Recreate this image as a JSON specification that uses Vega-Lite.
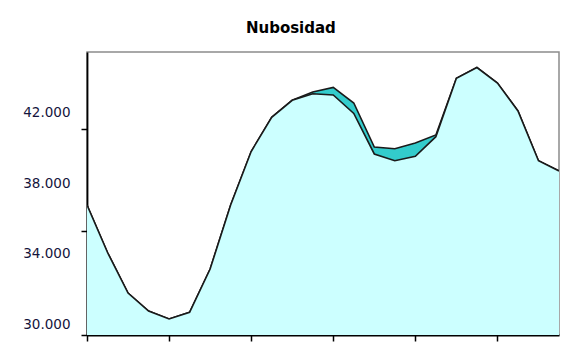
{
  "$schema": "https://vega.github.io/schema/vega-lite/v6.json",
  "width": 472,
  "height": 283,
  "autosize": "none",
  "padding": {"left": 87, "top": 52, "right": 5, "bottom": 29},
  "background": "white",
  "title": {
    "text": "Nubosidad",
    "font": "DejaVu Sans",
    "fontSize": 15,
    "fontWeight": "bold",
    "color": "#000000",
    "anchor": "middle",
    "frame": "bounds",
    "baseline": "alphabetic",
    "offset": 4
  },
  "data": {
    "values": [
      {"hora": 0, "base": 37350, "alto": 37350},
      {"hora": 1, "base": 34665, "alto": 34665},
      {"hora": 2, "base": 32375, "alto": 32375},
      {"hora": 3, "base": 31357, "alto": 31357},
      {"hora": 4, "base": 30905, "alto": 30905},
      {"hora": 5, "base": 31283, "alto": 31283},
      {"hora": 6, "base": 33732, "alto": 33732},
      {"hora": 7, "base": 37350, "alto": 37350},
      {"hora": 8, "base": 40375, "alto": 40375},
      {"hora": 9, "base": 42309, "alto": 42309},
      {"hora": 10, "base": 43270, "alto": 43270},
      {"hora": 11, "base": 43643, "alto": 43739},
      {"hora": 12, "base": 43570, "alto": 43994},
      {"hora": 13, "base": 42524, "alto": 43117},
      {"hora": 14, "base": 40234, "alto": 40630},
      {"hora": 15, "base": 39855, "alto": 40533},
      {"hora": 16, "base": 40104, "alto": 40856},
      {"hora": 17, "base": 41212, "alto": 41308},
      {"hora": 18, "base": 44514, "alto": 44514},
      {"hora": 19, "base": 45124, "alto": 45124},
      {"hora": 20, "base": 44248, "alto": 44248},
      {"hora": 21, "base": 42665, "alto": 42665},
      {"hora": 22, "base": 39855, "alto": 39855},
      {"hora": 23, "base": 39273, "alto": 39273}
    ]
  },
  "layer": [
    {
      "mark": {"type": "area", "color": "#33CCCC", "opacity": 1, "clip": true, "line": {"color": "#1a1a1a", "strokeWidth": 1.6}},
      "encoding": {
        "x": {
          "field": "hora", "type": "quantitative",
          "scale": {"domain": [0, 23], "nice": false, "zero": false},
          "axis": {"values": [0, 4, 8, 12, 16, 20], "labels": false, "title": null, "grid": false,
                   "ticks": true, "tickSize": 6, "tickColor": "#000000", "tickWidth": 1.5,
                   "domainColor": "#000000", "domainWidth": 1.8}
        },
        "y": {
          "field": "alto", "type": "quantitative",
          "scale": {"domain": [30000, 46000], "nice": false, "zero": false},
          "axis": {"orient": "left", "values": [30000, 35900, 41650], "labels": false, "title": null, "grid": false,
                   "ticks": true, "tickSize": 6, "tickColor": "#000000", "tickWidth": 1.5,
                   "domainColor": "#000000", "domainWidth": 1.8}
        }
      }
    },
    {
      "mark": {"type": "area", "color": "#CCFFFF", "opacity": 1, "clip": true, "line": {"color": "#1a1a1a", "strokeWidth": 1.6}},
      "encoding": {
        "x": {
          "field": "hora", "type": "quantitative",
          "scale": {"domain": [0, 23], "nice": false, "zero": false},
          "axis": {"values": [0, 4, 8, 12, 16, 20], "labels": false, "title": null, "grid": false,
                   "ticks": true, "tickSize": 6, "tickColor": "#000000", "tickWidth": 1.5,
                   "domainColor": "#000000", "domainWidth": 1.8}
        },
        "y": {
          "field": "base", "type": "quantitative",
          "scale": {"domain": [30000, 46000], "nice": false, "zero": false},
          "axis": {"orient": "left", "values": [30000, 34000, 38000, 42000], "title": null, "grid": false,
                   "ticks": false, "domain": false, "labelOffset": -10.5, "labelPadding": 17,
                   "labelFont": "DejaVu Sans", "labelFontSize": 13.5, "labelColor": "#14143c",
                   "labelExpr": "replace(format(datum.value, ','), ',', '.')"}
        }
      }
    }
  ],
  "resolve": {"axis": {"y": "independent"}},
  "config": {
    "view": {"stroke": "#8c8c8c", "strokeWidth": 1.5}
  }
}
